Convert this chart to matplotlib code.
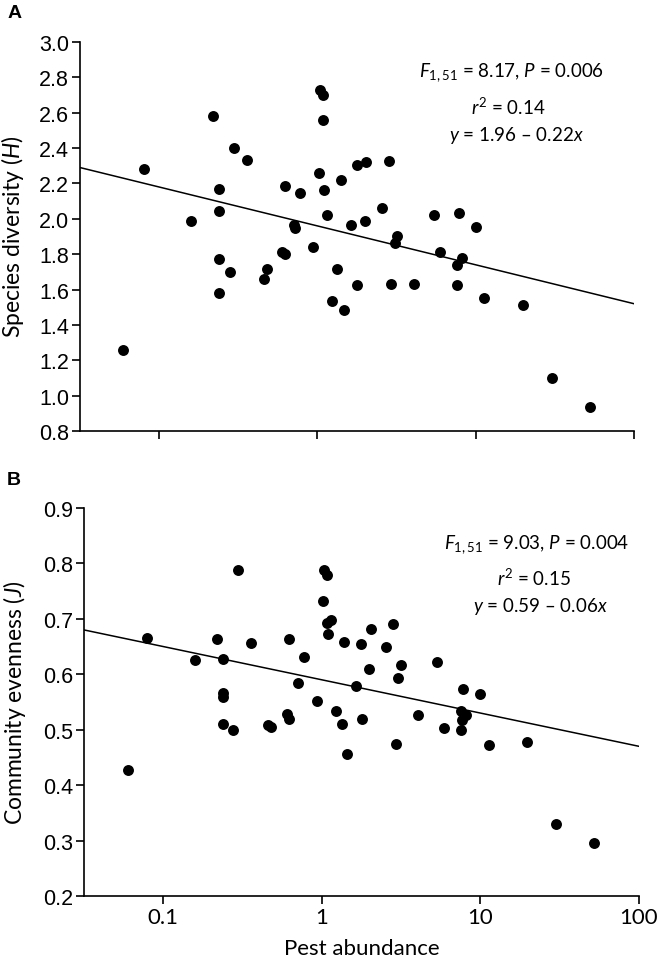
"""
Diversidad y equidad frente a la abundancia de plagas
"""

import numpy as np
import matplotlib
matplotlib.use('Agg')
import matplotlib.pyplot as plt

# Panel A: abundancia de plaga vs diversidad (H)
pest_a = [0.0595, 0.080, 0.159, 0.219, 0.239, 0.239, 0.239, 0.239, 0.281, 0.298,
          0.360, 0.463, 0.481, 0.598, 0.622, 0.622, 0.708, 0.723, 0.778, 0.94,
          1.02, 1.035, 1.086, 1.08, 1.096, 1.157, 1.24, 1.33, 1.40, 1.47,
          1.64, 1.78, 1.79, 2.0, 2.04, 2.56, 2.84, 2.93, 3.10, 3.19,
          4.06, 5.43, 5.98, 7.59, 7.63, 7.89, 8.2, 10.1, 11.3, 20.0,
          30.5, 53.0]
diversity = [1.257, 2.281, 1.985, 2.583, 2.168, 2.044, 1.774, 1.578, 1.697, 2.398,
             2.332, 1.657, 1.715, 1.813, 1.802, 2.185, 1.966, 1.946, 2.145, 1.838,
             2.26, 2.73, 2.70, 2.557, 2.162, 2.019, 1.538, 1.719, 2.219, 1.487,
             1.966, 2.306, 1.625, 1.985, 2.319, 2.059, 2.325, 1.629, 1.866, 1.904,
             1.629, 2.021, 1.813, 1.627, 1.738, 2.034, 1.781, 1.955, 1.553, 1.51,
             1.098, 0.938]

# Panel B: abundancia de plaga vs equidad (J)
pest_b = [0.0596, 0.079, 0.159, 0.219, 0.238, 0.238, 0.238, 0.238, 0.277, 0.298,
          0.358, 0.458, 0.477, 0.599, 0.617, 0.617, 0.706, 0.774, 0.933, 1.02,
          1.03, 1.07, 1.085, 1.15, 1.09, 1.23, 1.33, 1.38, 1.45, 1.63,
          1.76, 1.78, 1.99, 2.03, 2.53, 2.82, 2.93, 3.04, 3.15, 4.01,
          5.33, 5.90, 7.56, 7.56, 7.67, 7.74, 8.06, 10.0, 11.25, 19.8,
          30.0, 51.9]
evenness = [0.427, 0.665, 0.625, 0.664, 0.627, 0.566, 0.559, 0.511, 0.500, 0.789,
            0.657, 0.509, 0.504, 0.529, 0.520, 0.664, 0.584, 0.632, 0.552, 0.732,
            0.789, 0.780, 0.693, 0.698, 0.672, 0.533, 0.511, 0.659, 0.457, 0.579,
            0.655, 0.519, 0.610, 0.682, 0.649, 0.691, 0.475, 0.594, 0.617, 0.527,
            0.622, 0.503, 0.534, 0.500, 0.517, 0.573, 0.526, 0.564, 0.472, 0.477,
            0.329, 0.296]

# Rectas de regresión: y = a + b*log10(x)
FIT_A = (1.96, -0.22)
FIT_B = (0.59, -0.06)

XTICKS = [0.1, 1, 10, 100]
XTICK_LABELS = ['0.1', '1', '10', '100']

TEXT_FONT = 'Lato'
TICK_FONT = 'Liberation Sans'

plt.rcParams['mathtext.fontset'] = 'custom'
plt.rcParams['mathtext.rm'] = TEXT_FONT
plt.rcParams['mathtext.it'] = TEXT_FONT + ':italic'


def style_axes(ax, ylim, yticks, yfmt):
    ax.set_xscale('log')
    ax.set_xlim(10 ** -1.5, 100)
    ax.set_ylim(*ylim)
    ax.set_xticks(XTICKS)
    ax.xaxis.set_minor_locator(matplotlib.ticker.NullLocator())
    ax.set_yticks(yticks)
    ax.set_yticklabels([yfmt.format(v) for v in yticks], family=TICK_FONT, fontsize=15.5)
    for side in ('top', 'right'):
        ax.spines[side].set_visible(False)
    for side in ('left', 'bottom'):
        ax.spines[side].set_linewidth(1.2)
    ax.tick_params(direction='out', length=6, width=1.2, pad=2)


def draw_panel(ax, x, y, fit):
    ax.scatter(x, y, s=62, color='black', zorder=3, linewidths=0)
    xs = np.array([10 ** -1.5, 100])
    ax.plot(xs, fit[0] + fit[1] * np.log10(xs), color='black', linewidth=1.1)


fig = plt.figure(figsize=(6.6, 9.62), dpi=100)
ax_a = fig.add_axes([0.1212, 0.5509, 0.8394, 0.4044])
ax_b = fig.add_axes([0.1273, 0.0676, 0.8409, 0.4033])

# Panel A
draw_panel(ax_a, pest_a, diversity, FIT_A)
style_axes(ax_a, (0.8, 3.0), np.arange(0.8, 3.01, 0.2), '{:.1f}')
ax_a.set_xticklabels([])
fig.text(13 / 660, 1 - 237 / 962, 'Species diversity ($\\mathit{H}$)', family=TEXT_FONT,
         fontsize=16.5, rotation=90, ha='center', va='center')
ax_a.text(512 / 660, 1 - 73 / 962, '$\\mathit{F}_{1,51}$ = 8.17, $\\mathit{P}$ = 0.006',
          transform=fig.transFigure, ha='center', va='center', family=TEXT_FONT, fontsize=13.5)
ax_a.text(508 / 660, 1 - 107 / 962, '$\\mathit{r}^{2}$ = 0.14',
          transform=fig.transFigure, ha='center', va='center', family=TEXT_FONT, fontsize=13.5)
ax_a.text(516 / 660, 1 - 136 / 962, '$\\mathit{y}$ = 1.96 \u2013 0.22$\\mathit{x}$',
          transform=fig.transFigure, ha='center', va='center', family=TEXT_FONT, fontsize=13.5)
fig.text(15 / 660, 1 - 14 / 962, 'A', family=TICK_FONT, fontweight='bold', fontsize=14,
         ha='center', va='center')

# Panel B
draw_panel(ax_b, pest_b, evenness, FIT_B)
style_axes(ax_b, (0.2, 0.9), np.arange(0.2, 0.91, 0.1), '{:.1f}')
ax_b.set_xticklabels(XTICK_LABELS, family=TEXT_FONT, fontsize=16)
ax_b.set_xlabel('Pest abundance', family=TEXT_FONT, fontsize=16, labelpad=8)
fig.text(15 / 660, 1 - 703 / 962, 'Community evenness ($\\mathit{J}$)', family=TEXT_FONT,
         fontsize=16.5, rotation=90, ha='center', va='center')
ax_b.text(537 / 660, 1 - 545 / 962, '$\\mathit{F}_{1,51}$ = 9.03, $\\mathit{P}$ = 0.004',
          transform=fig.transFigure, ha='center', va='center', family=TEXT_FONT, fontsize=13.5)
ax_b.text(534 / 660, 1 - 578 / 962, '$\\mathit{r}^{2}$ = 0.15',
          transform=fig.transFigure, ha='center', va='center', family=TEXT_FONT, fontsize=13.5)
ax_b.text(540 / 660, 1 - 607 / 962, '$\\mathit{y}$ = 0.59 \u2013 0.06$\\mathit{x}$',
          transform=fig.transFigure, ha='center', va='center', family=TEXT_FONT, fontsize=13.5)
fig.text(14 / 660, 1 - 481 / 962, 'B', family=TICK_FONT, fontweight='bold', fontsize=14,
         ha='center', va='center')

fig.savefig('out.png', dpi=100)
